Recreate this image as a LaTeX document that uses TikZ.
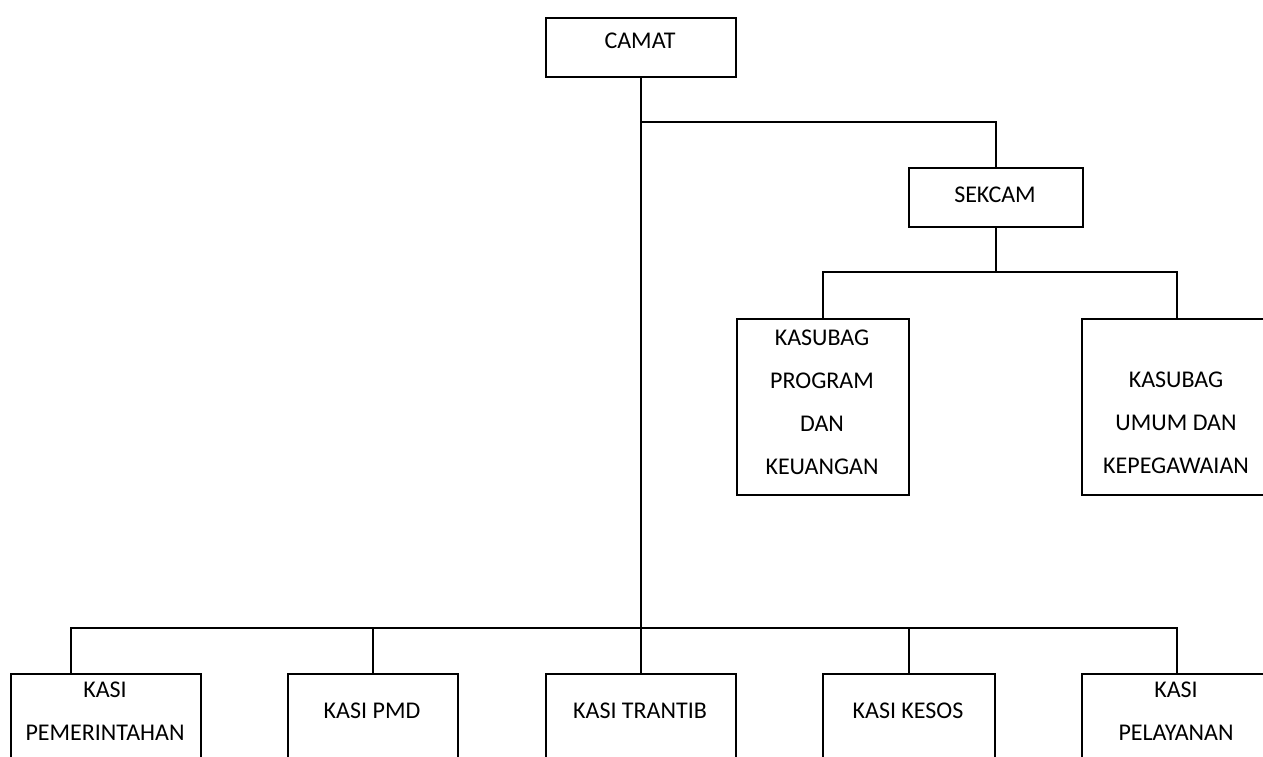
\documentclass[tikz,border=0pt]{standalone}
\usepackage{fontspec}
\setmainfont{Carlito}
\usepackage{tikz}

\begin{document}
\begin{tikzpicture}[x=1pt, y=-1pt, line width=2pt,
  box/.style={draw, anchor=north west, inner sep=0pt},
  lbl/.style={font=\fontsize{24}{43}\selectfont, align=center, inner sep=0pt}]
\clip (0,0) rectangle (1263,757);

\node[box, minimum width=190pt, minimum height=59pt] (camat) at (545,17) {};
\node[box, minimum width=174pt, minimum height=59pt] (sekcam) at (908,167) {};
\node[box, minimum width=172pt, minimum height=176pt] (kprog) at (736,318) {};
\node[box, minimum width=190pt, minimum height=176pt] (kumum) at (1081,318) {};

\node[box, minimum width=190pt, minimum height=120pt] (kpem) at (10,673) {};
\node[box, minimum width=170pt, minimum height=120pt] (kpmd) at (287,673) {};
\node[box, minimum width=190pt, minimum height=120pt] (ktrantib) at (545,673) {};
\node[box, minimum width=172pt, minimum height=120pt] (kkesos) at (822,673) {};
\node[box, minimum width=190pt, minimum height=120pt] (kpel) at (1081,673) {};

\node[lbl] (tcamat) at (640,41) {CAMAT};
\node[lbl] (tsekcam) at (995,195) {SEKCAM};
\node[lbl] (tprog) at (822,402) {KASUBAG\\PROGRAM\\DAN\\KEUANGAN};
\node[lbl] (tumum) at (1176,423) {KASUBAG\\UMUM DAN\\KEPEGAWAIAN};
\node[lbl] (tpem) at (105,711) {KASI\\PEMERINTAHAN};
\node[lbl] (tpmd) at (372,711) {KASI PMD};
\node[lbl] (ttrantib) at (640,711) {KASI TRANTIB};
\node[lbl] (tkesos) at (908,711) {KASI KESOS};
\node[lbl] (tpel) at (1176,711) {KASI\\PELAYANAN};

\coordinate (j1) at (640,122);
\coordinate (j2) at (640,628);
\coordinate (j3) at (995,272);
\coordinate (kpemtop) at (71,673);

\draw (camat.south) -- (ktrantib.north);
\draw (j1) -| (sekcam.north);
\draw (sekcam.south) -- (sekcam.south |- j3);
\draw (kprog.north) -- (kprog.north |- j3) -| (kumum.north);
\draw (kpemtop) -- (kpemtop |- j2) -| (kpel.north);
\draw (kpmd.north) -- (kpmd.north |- j2);
\draw (kkesos.north) -- (kkesos.north |- j2);
\end{tikzpicture}
\end{document}
